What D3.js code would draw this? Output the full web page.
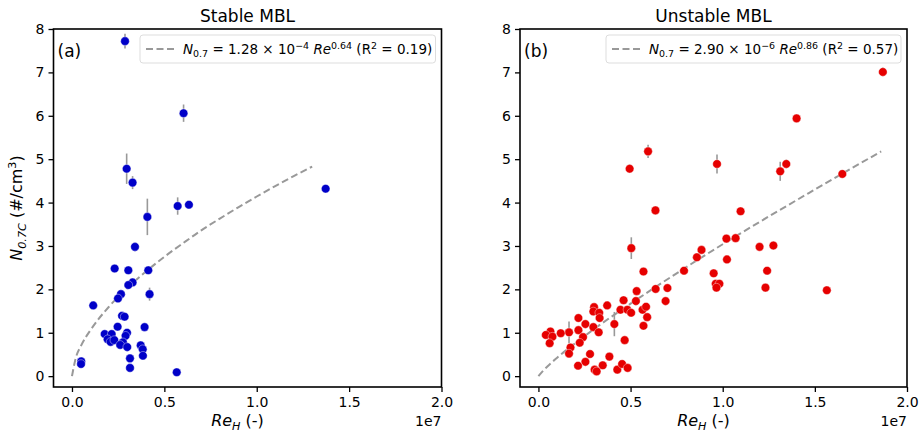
<!DOCTYPE html>
<html>
<head>
<meta charset="utf-8">
<script src="https://cdn.jsdelivr.net/npm/d3@7"></script>
<style>
  body { margin: 0; background: #fff; }
  svg { font-family: "DejaVu Sans", sans-serif; }
</style>
</head>
<body>
<svg id="chart" width="921" height="435"></svg>
<script>
// Re_H values are in units of 1e7
const stableRe = [0.287, 0.604, 0.296, 0.328, 0.408, 0.572, 0.633, 0.341, 0.231, 0.305,
  0.413, 0.328, 0.305, 0.265, 0.249, 0.420, 0.115, 0.271, 0.285, 0.247,
  0.393, 0.177, 0.215, 0.298, 0.290, 0.193, 0.209, 0.229, 0.276, 0.261,
  0.299, 0.372, 0.383, 0.384, 0.314, 0.314, 0.050, 0.049, 0.567, 1.373];
const stableN = [7.72, 6.06, 4.78, 4.46, 3.67, 3.92, 3.95, 2.98, 2.48, 2.44,
  2.44, 2.16, 2.10, 1.89, 1.79, 1.89, 1.63, 1.39, 1.37, 1.14,
  1.13, 0.97, 0.97, 1.00, 0.93, 0.85, 0.79, 0.83, 0.78, 0.72,
  0.67, 0.71, 0.62, 0.47, 0.41, 0.19, 0.34, 0.28, 0.09, 4.32];
const stableErr = [0.17, 0.2, 0.35, 0.15, 0.42, 0.2, 0.05, 0.1, 0.05, 0.05,
  0.08, 0.05, 0.05, 0.05, 0.05, 0.15, 0.03, 0.05, 0.05, 0.03,
  0.03, 0.03, 0.05, 0.05, 0.05, 0.03, 0.03, 0.03, 0.03, 0.03,
  0.03, 0.03, 0.03, 0.03, 0.03, 0.03, 0.03, 0.03, 0.02, 0.03];

const unstableRe = [0.495, 0.595, 0.635, 0.504, 0.570, 0.790, 0.860, 0.885, 0.636, 0.700,
  0.533, 0.462, 0.529, 0.690, 0.373, 0.302, 0.298, 0.330, 0.445, 0.483,
  0.503, 0.565, 0.584, 0.590, 0.570, 0.332, 0.217, 0.255, 0.298, 0.217,
  0.327, 0.412, 0.166, 0.121, 0.065, 0.040, 0.076, 0.061, 0.242, 0.224,
  0.174, 0.166, 0.468, 0.280, 0.385, 0.255, 0.215, 0.349, 0.305, 0.316,
  0.428, 0.454, 0.484, 1.869, 1.401, 0.969, 1.345, 1.312, 1.649, 1.097,
  1.020, 1.070, 1.200, 1.275, 1.023, 0.951, 0.962, 0.982, 0.966, 1.241,
  1.232, 1.565];
const unstableN = [4.78, 5.18, 3.82, 2.95, 2.41, 2.43, 2.74, 2.91, 2.01, 2.03,
  1.96, 1.75, 1.73, 1.73, 1.63, 1.59, 1.49, 1.46, 1.53, 1.53,
  1.46, 1.53, 1.60, 1.36, 1.16, 1.34, 1.34, 1.20, 1.13, 1.06,
  1.01, 1.20, 1.01, 0.99, 1.03, 0.95, 0.91, 0.76, 0.90, 0.77,
  0.66, 0.52, 0.83, 0.51, 0.45, 0.33, 0.24, 0.25, 0.15, 0.11,
  0.15, 0.28, 0.19, 7.01, 5.94, 4.89, 4.89, 4.72, 4.66, 3.80,
  3.17, 3.18, 2.98, 3.01, 2.69, 2.37, 2.13, 2.13, 2.04, 2.43,
  2.04, 1.98];
const unstableErr = [0.1, 0.15, 0.1, 0.25, 0.08, 0.08, 0.05, 0.08, 0.05, 0.05,
  0.05, 0.05, 0.05, 0.05, 0.05, 0.05, 0.05, 0.05, 0.05, 0.05,
  0.05, 0.05, 0.05, 0.05, 0.05, 0.05, 0.05, 0.05, 0.05, 0.05,
  0.05, 0.28, 0.25, 0.03, 0.05, 0.05, 0.03, 0.03, 0.03, 0.03,
  0.05, 0.05, 0.05, 0.03, 0.03, 0.03, 0.03, 0.03, 0.03, 0.03,
  0.03, 0.03, 0.03, 0.1, 0.08, 0.22, 0.1, 0.22, 0.05, 0.08,
  0.05, 0.05, 0.08, 0.1, 0.05, 0.08, 0.05, 0.05, 0.05, 0.08,
  0.05, 0.03];

// fitted curves
const stableFitRe = [0, 0.02, 0.05, 0.1, 0.2, 0.3, 0.4, 0.5, 0.6, 0.7, 0.8, 0.9, 1.0, 1.1, 1.2, 1.3];
const stableFitN = [0, 0.41, 0.71, 1.06, 1.6, 2.03, 2.41, 2.75, 3.06, 3.36, 3.63, 3.89, 4.14, 4.38, 4.61, 4.83];
const unstableFitRe = [0, 0.02, 0.05, 0.1, 0.2, 0.3, 0.5, 0.75, 1.0, 1.25, 1.5, 1.86];
const unstableFitN = [0, 0.1, 0.23, 0.42, 0.76, 1.08, 1.67, 2.37, 3.04, 3.68, 4.3, 5.18];

const xTicks = [0, 0.5, 1.0, 1.5, 2.0];
const yTicks = [0, 1, 2, 3, 4, 5, 6, 7, 8];

const svg = d3.select("#chart");

// append a run of text pieces (italic / sub / sup) into a text element
function richText(sel, parts, size) {
  let shift = 0;
  parts.forEach(p => {
    let target = p.sub ? 0.25 * size : p.sup ? -0.4 * size : 0;
    sel.append("tspan")
      .attr("dy", target - shift)
      .attr("font-size", (p.sub || p.sup) ? size * 0.7 : size)
      .attr("font-style", p.it ? "italic" : "normal")
      .text(p.t);
    shift = target;
  });
}

function panel(cfg) {
  const x = d3.scaleLinear().domain([-0.1, 2.0]).range([cfg.left, cfg.right]);
  const y = d3.scaleLinear().domain([-0.25, 8]).range([387, 29]);
  const g = svg.append("g");

  g.append("g")
    .attr("transform", "translate(0,387)")
    .call(d3.axisBottom(x).tickValues(xTicks).tickFormat(d3.format(".1f")).tickSize(5).tickPadding(5))
    .call(a => a.select(".domain").remove())
    .call(a => a.selectAll("text").attr("font-size", 14).attr("fill", "#000").attr("font-family", "DejaVu Sans"))
    .call(a => a.selectAll("line").attr("stroke-width", 1.3));

  g.append("g")
    .attr("transform", `translate(${cfg.left},0)`)
    .call(d3.axisLeft(y).tickValues(yTicks).tickSize(5).tickPadding(4))
    .call(a => a.select(".domain").remove())
    .call(a => a.selectAll("text").attr("font-size", 14).attr("fill", "#000").attr("font-family", "DejaVu Sans"))
    .call(a => a.selectAll("line").attr("stroke-width", 1.3));

  // fitted curve
  const pts = cfg.fitRe.map((r, i) => [r, cfg.fitN[i]]);
  g.append("path")
    .datum(pts)
    .attr("fill", "none")
    .attr("stroke", "#999")
    .attr("stroke-width", 2)
    .attr("stroke-dasharray", "7,3.5")
    .attr("d", d3.line().x(d => x(d[0])).y(d => y(d[1])).curve(d3.curveMonotoneX));

  const data = cfg.re.map((r, i) => ({ r, n: cfg.n[i], e: cfg.err[i] }));

  g.append("g").selectAll("line")
    .data(data)
    .join("line")
    .attr("x1", d => x(d.r)).attr("x2", d => x(d.r))
    .attr("y1", d => y(d.n - d.e)).attr("y2", d => y(d.n + d.e))
    .attr("stroke", "#999")
    .attr("stroke-width", 1.6);

  g.append("g").selectAll("circle")
    .data(data)
    .join("circle")
    .attr("cx", d => x(d.r))
    .attr("cy", d => y(d.n))
    .attr("r", 4.3)
    .attr("fill", cfg.color)
    .attr("stroke", "#fff")
    .attr("stroke-width", 0.4);

  // frame
  g.append("rect")
    .attr("x", cfg.left).attr("y", 29)
    .attr("width", cfg.right - cfg.left).attr("height", 358)
    .attr("fill", "none").attr("stroke", "#000").attr("stroke-width", 1.6);

  g.append("text")
    .attr("x", (cfg.left + cfg.right) / 2).attr("y", 22)
    .attr("text-anchor", "middle").attr("font-size", 17)
    .text(cfg.title);

  g.append("text")
    .attr("x", cfg.left + 4).attr("y", 57)
    .attr("font-size", 17)
    .text(cfg.tag);

  // legend
  g.append("rect")
    .attr("x", cfg.legX).attr("y", 35)
    .attr("width", cfg.right - 6 - cfg.legX).attr("height", 28)
    .attr("rx", 3)
    .attr("fill", "#fff").attr("fill-opacity", 0.8)
    .attr("stroke", "#ddd");
  g.append("line")
    .attr("x1", cfg.legX + 6).attr("x2", cfg.legX + 34)
    .attr("y1", 49).attr("y2", 49)
    .attr("stroke", "#999").attr("stroke-width", 2)
    .attr("stroke-dasharray", "7,3.5");
  const lt = g.append("text")
    .attr("x", cfg.legX + 43).attr("y", 54)
    .attr("font-size", 13.5);
  richText(lt, cfg.legend, 13.5);

  // x label + offset
  const xl = g.append("text")
    .attr("x", (cfg.left + cfg.right) / 2 - 10).attr("y", 426)
    .attr("text-anchor", "middle");
  richText(xl, [{ t: "Re", it: true }, { t: "H", it: true, sub: true }, { t: " (-)" }], 16);

  g.append("text")
    .attr("x", cfg.right).attr("y", 426)
    .attr("text-anchor", "end").attr("font-size", 14)
    .text("1e7");
}

panel({
  left: 53.5, right: 441.5, color: "#0000c8", title: "Stable MBL", tag: "(a)",
  re: stableRe, n: stableN, err: stableErr, fitRe: stableFitRe, fitN: stableFitN,
  legX: 140,
  legend: [{ t: "N", it: true }, { t: "0.7", sub: true }, { t: " = 1.28 × 10" }, { t: "−4", sup: true },
    { t: " " }, { t: "Re", it: true }, { t: "0.64", sup: true }, { t: " (R" }, { t: "2", sup: true }, { t: " = 0.19)" }]
});

panel({
  left: 520, right: 907, color: "#e60000", title: "Unstable MBL", tag: "(b)",
  re: unstableRe, n: unstableN, err: unstableErr, fitRe: unstableFitRe, fitN: unstableFitN,
  legX: 606,
  legend: [{ t: "N", it: true }, { t: "0.7", sub: true }, { t: " = 2.90 × 10" }, { t: "−6", sup: true },
    { t: " " }, { t: "Re", it: true }, { t: "0.86", sup: true }, { t: " (R" }, { t: "2", sup: true }, { t: " = 0.57)" }]
});

// y label
const yl = svg.append("text")
  .attr("transform", "translate(22,208) rotate(-90)")
  .attr("text-anchor", "middle");
richText(yl, [{ t: "N", it: true }, { t: "0.7C", it: true, sub: true }, { t: " (#/cm" }, { t: "3", sup: true }, { t: ")" }], 16);
</script>
</body>
</html>
